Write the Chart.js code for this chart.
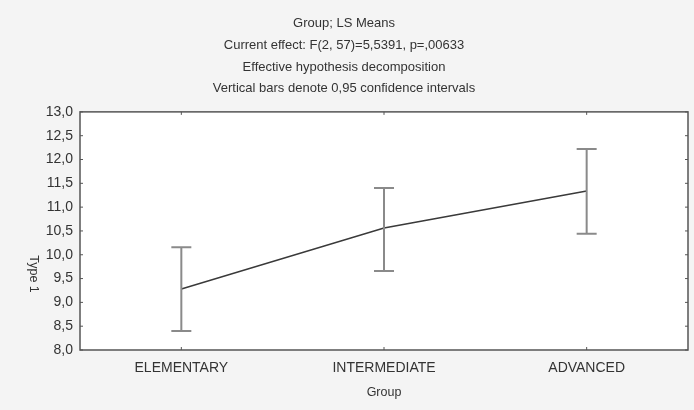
<!DOCTYPE html>
<html>
<head>
<meta charset="utf-8">
<script src="https://cdn.jsdelivr.net/npm/chart.js@4"></script>
<style>
html,body{margin:0;padding:0;background:#f4f4f4;}
#wrap{width:694px;height:410px;position:relative;}
</style>
</head>
<body>
<div id="wrap"><canvas id="c" width="694" height="410"></canvas></div>
<script>
const categories = ["ELEMENTARY", "INTERMEDIATE", "ADVANCED"];
const means = [9.28, 10.56, 11.34];
const lowerCI = [8.40, 9.66, 10.44];
const upperCI = [10.16, 11.40, 12.22];
const yTicks = [8.0, 8.5, 9.0, 9.5, 10.0, 10.5, 11.0, 11.5, 12.0, 12.5, 13.0];
const titleLines = [
  "Group; LS Means",
  "Current effect: F(2, 57)=5,5391, p=,00633",
  "Effective hypothesis decomposition",
  "Vertical bars denote 0,95 confidence intervals"
];
const xTitle = "Group";
const yTitle = "Type 1";

const FONT = "'Liberation Sans', Arial, sans-serif";
const TXT = "#333";

const decor = {
  id: "decor",
  beforeDraw(chart) {
    const {ctx, chartArea: a} = chart;
    ctx.save();
    ctx.fillStyle = "#ffffff";
    ctx.fillRect(a.left, a.top, a.right - a.left, a.bottom - a.top);
    ctx.restore();
  },
  afterDatasetsDraw(chart) {
    const {ctx, chartArea: a, scales: {x, y}} = chart;
    ctx.save();
    // error bars
    ctx.strokeStyle = "#8a8a8a";
    ctx.lineWidth = 2;
    for (let i = 0; i < categories.length; i++) {
      const px = x.getPixelForValue(i);
      const yl = y.getPixelForValue(lowerCI[i]);
      const yu = y.getPixelForValue(upperCI[i]);
      ctx.beginPath();
      ctx.moveTo(px, yl); ctx.lineTo(px, yu);
      ctx.moveTo(px - 10, yl); ctx.lineTo(px + 10, yl);
      ctx.moveTo(px - 10, yu); ctx.lineTo(px + 10, yu);
      ctx.stroke();
    }
    // frame
    ctx.strokeStyle = "#555";
    ctx.lineWidth = 1.5;
    ctx.strokeRect(a.left, a.top, a.right - a.left, a.bottom - a.top);
    // inward ticks
    ctx.lineWidth = 1;
    ctx.beginPath();
    for (const v of yTicks) {
      const py = y.getPixelForValue(v);
      ctx.moveTo(a.left, py); ctx.lineTo(a.left + 3, py);
      ctx.moveTo(a.right, py); ctx.lineTo(a.right - 3, py);
    }
    for (let i = 0; i < categories.length; i++) {
      const px = x.getPixelForValue(i);
      ctx.moveTo(px, a.top); ctx.lineTo(px, a.top + 3);
      ctx.moveTo(px, a.bottom); ctx.lineTo(px, a.bottom - 3);
    }
    ctx.stroke();
    // y title rotated clockwise
    ctx.fillStyle = TXT;
    ctx.font = "12.5px " + FONT;
    ctx.textAlign = "center";
    ctx.textBaseline = "middle";
    ctx.translate(33, 274);
    ctx.rotate(Math.PI / 2);
    ctx.fillText(yTitle, 0, 0);
    ctx.restore();
  }
};

new Chart(document.getElementById("c"), {
  type: "line",
  data: {
    labels: categories,
    datasets: [{
      data: means,
      borderColor: "#3a3a3a",
      borderWidth: 1.5,
      pointRadius: 0,
      tension: 0,
      fill: false
    }]
  },
  options: {
    responsive: false,
    animation: false,
    events: [],
    layout: {padding: {left: 0, right: 6, top: 0, bottom: 0}},
    plugins: {
      legend: {display: false},
      tooltip: {enabled: false},
      title: {
        display: true,
        text: titleLines,
        color: TXT,
        font: {family: FONT, size: 13, weight: "normal", lineHeight: 1.69},
        padding: {top: 12, bottom: 12}
      }
    },
    scales: {
      x: {
        type: "category",
        offset: true,
        grid: {display: false, drawTicks: false},
        border: {display: false},
        ticks: {color: TXT, font: {family: FONT, size: 14}, padding: 10, maxRotation: 0},
        title: {display: true, text: xTitle, color: TXT, font: {family: FONT, size: 12.5}, padding: {top: 4, bottom: 10}},
        afterFit(s) { s.height = 60; }
      },
      y: {
        min: 8, max: 13,
        afterBuildTicks(s) { s.ticks = yTicks.map(v => ({value: v})); },
        grid: {display: false, drawTicks: false},
        border: {display: false},
        ticks: {
          color: TXT, font: {family: FONT, size: 14}, padding: 7,
          callback: v => Number(v).toFixed(1).replace(".", ",")
        },
        afterFit(s) { s.width = 80; }
      }
    }
  },
  plugins: [decor]
});
</script>
</body>
</html>
